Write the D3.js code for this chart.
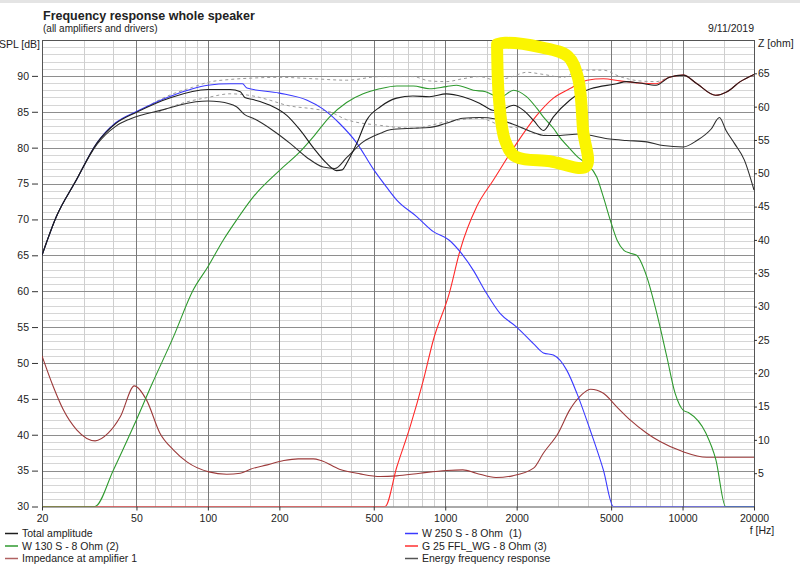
<!DOCTYPE html>
<html>
<head>
<meta charset="utf-8">
<script src="https://cdn.jsdelivr.net/npm/d3@7"></script>
<style>
  body { margin: 0; background: #fff; }
  svg text { font-family: "Liberation Sans", Arial, sans-serif; fill: #222; }
</style>
</head>
<body>
<svg class="graphic"></svg>
<script>
// curves: [frequency Hz, SPL dB]
var totalAmplitude = [[20,65],[23,70.4],[27.6,75.2],[34,80.6],[41,83.4],[50.5,85.0],[70,87.0],[100,88.1],[124,88.1],[137,87.8],[143,87.0],[155,86.7],[183,85.9],[215,84.5],[244,82.5],[278,80.0],[317,77.8],[348,76.8],[368,76.9],[384,77.8],[424,80.6],[466,83.8],[533,85.7],[624,86.9],[731,87.2],[858,87.1],[1011,87.5],[1186,87.1],[1394,86.2],[1584,85.2],[1665,85.1],[1940,85.9],[2138,85.2],[2356,83.8],[2596,82.4],[2856,84.3],[3347,86.6],[3684,87.6],[4100,88.2],[5270,88.9],[5800,89.2],[6580,89.0],[7730,88.7],[8800,89.8],[10080,90.1],[11500,88.9],[13760,87.3],[15400,87.8],[17500,89.2],[20000,90.2]];

var energyResponse = [[20,65],[23,70.4],[27.6,75.2],[34,80.4],[41,83.0],[47,84.0],[65,85.3],[89,86.4],[100,86.5],[112,86.4],[132,85.7],[143,84.6],[155,84.1],[188,82.4],[222,80.6],[262,78.6],[306,77.3],[343,77.1],[384,78.6],[451,80.8],[533,82.0],[586,82.5],[731,82.7],[858,82.8],[1011,83.4],[1186,84.1],[1394,84.2],[1635,84.0],[1920,83.3],[2356,82.1],[2596,81.7],[2990,81.7],[3684,81.9],[4930,81.2],[5800,81.0],[7070,80.8],[8280,80.3],[10080,80.1],[11500,81.0],[13200,82.6],[14300,84.2],[15250,82.4],[16540,80.6],[18200,78.3],[20000,74.1]];

var woofer = [[20,65],[23,70.4],[27.6,75.2],[34,80.6],[41,83.5],[50.5,85.1],[70,87.2],[100,88.7],[124,88.9],[140,88.9],[146,88.3],[200,87.6],[262,86.6],[305,85.4],[358,83.4],[425,80.6],[498,77.0],[566,74.5],[625,72.7],[758,70.4],[891,68.3],[1040,67.1],[1155,65.5],[1314,62.9],[1480,59.9],[1702,56.9],[2000,55.0],[2352,52.7],[2592,51.4],[2856,51.1],[3250,49.0],[3585,45.8],[4076,40.7],[4637,35.1],[5113,30],[20000,30]];

var midrange = [[20,30],[33.4,30],[40,35.1],[48.5,41.1],[58.4,47.2],[71.5,53.6],[86.8,60.2],[100,63.4],[116,67.1],[132,69.9],[155,73.1],[200,76.8],[244,79.4],[278,81.5],[326,84.3],[384,86.3],[451,87.5],[529,88.2],[625,88.6],[734,88.6],[859,88.2],[1010,88.5],[1115,88.7],[1314,88.0],[1480,87.8],[1702,87.0],[1940,88.0],[2200,87.1],[2430,85.5],[2590,84.3],[2856,82.7],[3030,81.5],[3340,79.9],[3640,78.6],[3960,77.7],[4350,75.9],[4640,73.1],[4960,69.9],[5300,67.1],[5660,65.7],[6010,65.3],[6400,65.0],[7070,62.0],[7790,56.9],[8580,50.9],[9300,45.8],[10080,43.4],[10580,43.1],[12550,40.2],[13820,36.5],[15180,30],[20000,30]];

var tweeter = [[20,30],[558,30],[625,35.5],[711,41.1],[809,47.6],[891,53.2],[1040,59.7],[1155,65.7],[1358,71.8],[1596,75.5],[2000,80.6],[2430,84.5],[2856,86.9],[3340,88.2],[3960,89.4],[4640,89.6],[5450,89.3],[6580,89.0],[7730,88.9],[8800,89.8],[10080,90.1],[11500,88.9],[13760,87.3],[15400,87.8],[17500,89.2],[20000,90.2]];

// the two grey dashed traces (not in the legend)
var dashUpper = [[55,85.7],[70,87.4],[86,88.4],[100,89.1],[124,89.5],[155,89.7],[200,89.8],[278,89.6],[384,89.4],[533,89.9],[731,89.9],[858,89.3],[1011,89.2],[1186,89.6],[1394,89.9],[1635,89.4],[1920,89.9],[2200,90.5],[2596,90.2],[3130,89.8],[3684,90.8],[4640,90.8],[5450,89.9],[6580,89.3],[7730,89.2],[8800,89.8],[10080,90.1]];
var dashLower = [[62,85.0],[80,86.3],[100,87.0],[124,87.5],[155,87.2],[183,86.6],[215,85.9],[278,85.4],[326,85.0],[384,83.9],[533,83.1],[731,82.7],[1011,83.6],[1394,84.1],[1750,83.0],[2138,82.7],[2356,82.0],[2700,81.7]];

// [frequency Hz, impedance ohm] - right axis
var impedance = [[20,22.6],[22.3,18.0],[24.6,14.5],[28,11.5],[33.5,9.85],[38,11.0],[42.8,13.5],[49,18.1],[55.1,16.0],[62.8,11.0],[71.5,8.5],[81.6,6.7],[101,5.2],[120,4.85],[137,5.0],[151,5.6],[178,6.25],[209,6.9],[240,7.15],[278,7.15],[300,6.9],[358,5.6],[438,4.9],[533,4.5],[624,4.6],[783,5.0],[1011,5.4],[1186,5.5],[1350,5.0],[1635,4.35],[1920,4.6],[2356,5.75],[2590,8.0],[2990,11.0],[3347,14.5],[3753,16.75],[4100,17.6],[4640,17.0],[5270,15.0],[6010,13.0],[7070,11.0],[8040,9.75],[10000,8.25],[12640,7.4],[20000,7.4]];

// hand drawn yellow marker on the screenshot, in [Hz, dB]
var highlight = [[1654,94.4],[1686,86.6],[1787,81.0],[1969,78.8],[2765,78.1],[3922,77.4],[3810,82.4],[3628,89.7],[3294,92.7],[2509,94.0],[1787,94.6],[1654,94.4]];

var freqTicks = [20, 50, 100, 200, 500, 1000, 2000, 5000, 10000, 20000];
var splTicks = d3.range(30, 91, 5);
var ohmTicks = d3.range(5, 66, 5);

var legendItems = [
    {label: "Total amplitude", colour: "#1e1e1e", col: 0, row: 0},
    {label: "W 130 S - 8 Ohm (2)", colour: "#2f9a2f", col: 0, row: 1},
    {label: "Impedance at amplifier 1", colour: "#b06262", col: 0, row: 2},
    {label: "W 250 S - 8 Ohm\u00a0 (1)", colour: "#3a3aff", col: 1, row: 0},
    {label: "G 25 FFL_WG - 8 Ohm (3)", colour: "#ff3030", col: 1, row: 1},
    {label: "Energy frequency response", colour: "#555555", col: 1, row: 2}
];

var margin = {top: 40, right: 46, bottom: 60.5, left: 42},
    width = 800 - margin.left - margin.right,
    height = 567 - margin.top - margin.bottom,
    labelSize = "10.5px";

var x = d3.scaleLog().domain([20, 20000]).range([0, width]),
    ySpl = d3.scaleLinear().domain([30, 95]).range([height, 0]),
    yOhm = d3.scaleLinear().domain([0, 70]).range([height, 0]);

function init() {
    var svg = d3.select(".graphic")
        .attr("width", 800)
        .attr("height", 567);

    svg.append("rect")
        .attr("width", 800).attr("height", 3)
        .attr("fill", "#e4e4e4");

    // titles
    svg.append("text").attr("x", 43).attr("y", 20)
        .style("font-size", "12.5px").style("font-weight", "bold")
        .text("Frequency response whole speaker");
    svg.append("text").attr("x", 43).attr("y", 32)
        .style("font-size", "10px")
        .text("(all amplifiers and drivers)");
    svg.append("text").attr("x", 754).attr("y", 32)
        .attr("text-anchor", "end").style("font-size", labelSize)
        .text("9/11/2019");
    svg.append("text").attr("x", 40).attr("y", 48)
        .attr("text-anchor", "end").style("font-size", labelSize)
        .text("SPL [dB]");
    svg.append("text").attr("x", 758).attr("y", 47)
        .style("font-size", labelSize)
        .text("Z [ohm]");
    svg.append("text").attr("x", 762).attr("y", 534)
        .attr("text-anchor", "middle").style("font-size", labelSize)
        .text("f [Hz]");

    var graphic = svg.append("g")
        .attr("transform", "translate(" + margin.left + "," + margin.top + ")");

    // grid: 1, 1.5, 2 ... 9 per decade, heavier on the labelled ones
    var gridFreqs = [];
    [10, 100, 1000, 10000].forEach(function(decade) {
        [1, 1.5, 2, 3, 4, 5, 6, 7, 8, 9].forEach(function(m) {
            var f = decade * m;
            if (f > 20 && f < 20000 && freqTicks.indexOf(f) < 0) gridFreqs.push(f);
        });
    });

    graphic.selectAll(".minorH")
        .data(d3.range(31, 95, 1).filter(function(d) { return d % 5 !== 0; }))
        .enter().append("line")
        .attr("x1", 0).attr("x2", width)
        .attr("y1", function(d) { return Math.round(ySpl(d)) + 0.5; })
        .attr("y2", function(d) { return Math.round(ySpl(d)) + 0.5; })
        .attr("stroke", "#d6d6d6");

    graphic.selectAll(".minorV")
        .data(gridFreqs)
        .enter().append("line")
        .attr("y1", 0).attr("y2", height)
        .attr("x1", function(d) { return Math.round(x(d)) + 0.5; })
        .attr("x2", function(d) { return Math.round(x(d)) + 0.5; })
        .attr("stroke", "#cfcfcf");

    graphic.selectAll(".majorH")
        .data(d3.range(35, 95, 5))
        .enter().append("line")
        .attr("x1", 0).attr("x2", width)
        .attr("y1", function(d) { return Math.round(ySpl(d)) + 0.5; })
        .attr("y2", function(d) { return Math.round(ySpl(d)) + 0.5; })
        .attr("stroke", "#8e8e8e");

    graphic.selectAll(".majorV")
        .data(freqTicks.slice(1, -1))
        .enter().append("line")
        .attr("y1", 0).attr("y2", height)
        .attr("x1", function(d) { return Math.round(x(d)) + 0.5; })
        .attr("x2", function(d) { return Math.round(x(d)) + 0.5; })
        .attr("stroke", "#7a7a7a");

    graphic.append("rect")
        .attr("x", 0.5).attr("y", 0.5)
        .attr("width", width).attr("height", height)
        .attr("fill", "none")
        .attr("stroke", "#555");

    // axes
    var leftAxis = svg.append("g")
        .attr("transform", "translate(38," + margin.top + ")")
        .call(d3.axisLeft(ySpl).tickValues(splTicks).tickSizeInner(6).tickSizeOuter(0).tickPadding(3));
    var rightAxis = svg.append("g")
        .attr("transform", "translate(" + (margin.left + width) + "," + margin.top + ")")
        .call(d3.axisRight(yOhm).tickValues(ohmTicks).tickSizeInner(3).tickSizeOuter(0).tickPadding(1));
    var bottomAxis = svg.append("g")
        .attr("transform", "translate(" + margin.left + "," + (margin.top + height) + ")")
        .call(d3.axisBottom(x).tickValues(freqTicks).tickFormat(d3.format("d")).tickSizeInner(4).tickSizeOuter(0).tickPadding(4));

    [leftAxis, rightAxis, bottomAxis].forEach(function(a) {
        a.select(".domain").remove();
        a.selectAll("line").attr("stroke", "#333");
        a.selectAll("text")
            .style("font-family", "'Liberation Sans', Arial, sans-serif")
            .style("font-size", labelSize)
            .attr("fill", "#222");
    });

    // curves
    graphic.append("clipPath").attr("id", "plotClip")
        .append("rect").attr("x", 0).attr("y", -1).attr("width", width + 1).attr("height", height + 1);

    var plot = graphic.append("g").attr("clip-path", "url(#plotClip)");

    var splLine = d3.line()
        .x(function(d) { return x(d[0]); })
        .y(function(d) { return ySpl(d[1]); })
        .curve(d3.curveMonotoneX);

    var ohmLine = d3.line()
        .x(function(d) { return x(d[0]); })
        .y(function(d) { return yOhm(d[1]); })
        .curve(d3.curveMonotoneX);

    [dashUpper, dashLower].forEach(function(series) {
        plot.append("path")
            .datum(series)
            .attr("d", splLine)
            .attr("fill", "none")
            .attr("stroke", "#999")
            .attr("stroke-width", 1)
            .attr("stroke-dasharray", "3,3");
    });

    plot.append("path").datum(impedance).attr("d", ohmLine)
        .attr("fill", "none").attr("stroke", "#9c3a3a").attr("stroke-width", 1.1);

    var curves = [
        {data: tweeter, colour: "#ff2a2a"},
        {data: midrange, colour: "#2f9a2f"},
        {data: woofer, colour: "#3a3aff"},
        {data: energyResponse, colour: "#2e2e2e"},
        {data: totalAmplitude, colour: "#1e1e1e"}
    ];

    plot.selectAll(".curve")
        .data(curves)
        .enter().append("path")
        .attr("class", "curve")
        .attr("d", function(d) { return splLine(d.data); })
        .attr("fill", "none")
        .attr("stroke", function(d) { return d.colour; })
        .attr("stroke-width", 1.1);

    // the yellow hand marking
    graphic.append("path")
        .datum(highlight)
        .attr("d", d3.line()
            .x(function(d) { return x(d[0]); })
            .y(function(d) { return ySpl(d[1]); })
            .curve(d3.curveCatmullRomClosed))
        .attr("fill", "none")
        .attr("stroke", "#fbf500")
        .attr("stroke-width", 12)
        .attr("stroke-linejoin", "round");

    // legend
    var legend = svg.selectAll(".legend")
        .data(legendItems)
        .enter().append("g")
        .attr("transform", function(d) {
            return "translate(" + (d.col ? 405 : 5) + "," + (537 + d.row * 12.5) + ")"; });

    legend.append("line")
        .attr("x1", 0).attr("x2", 13)
        .attr("y1", -3.5).attr("y2", -3.5)
        .attr("stroke", function(d) { return d.colour; })
        .attr("stroke-width", 1.5);

    legend.append("text")
        .attr("x", 17)
        .style("font-size", labelSize)
        .text(function(d) { return d.label; });
}

init();
</script>
</body>
</html>
